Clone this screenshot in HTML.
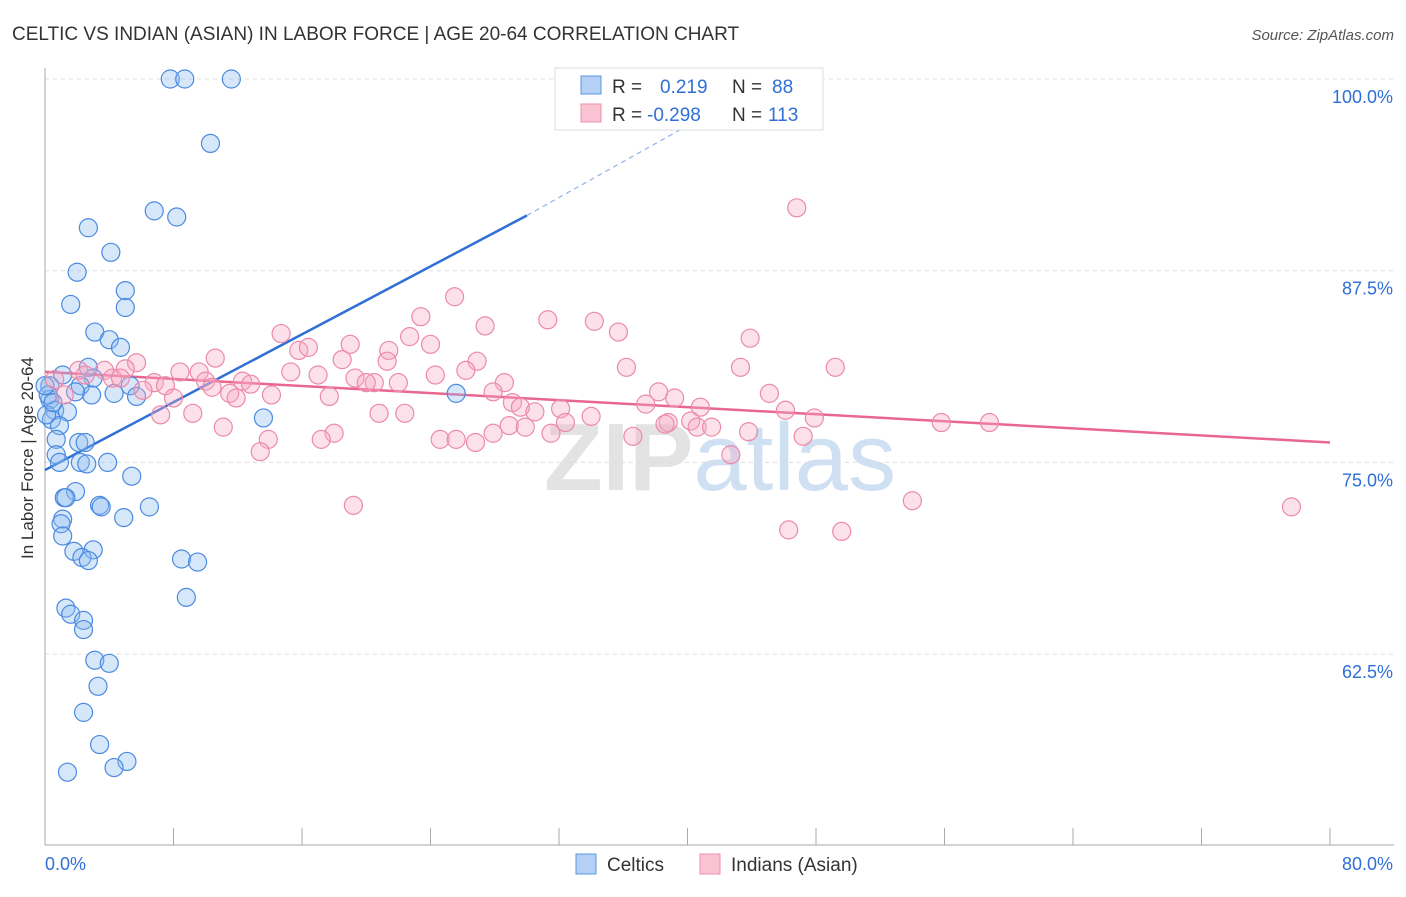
<!DOCTYPE html>
<html><head><meta charset="utf-8">
<style>
body{margin:0;background:#fff;font-family:"Liberation Sans",sans-serif;}
svg text{font-family:"Liberation Sans",sans-serif;}
</style></head>
<body>
<svg id="chart" width="1406" height="892" viewBox="0 0 1406 892" xmlns="http://www.w3.org/2000/svg">
<text x="12" y="40" font-size="19" fill="#333">CELTIC VS INDIAN (ASIAN) IN LABOR FORCE | AGE 20-64 CORRELATION CHART</text>
<text x="1394" y="40" font-size="15" fill="#555" text-anchor="end" font-style="italic">Source: ZipAtlas.com</text>
<text x="720" y="490" font-size="96" fill="#e3e3e3" text-anchor="middle" font-weight="bold">ZIP<tspan fill="#cfe0f3" font-weight="normal">atlas</tspan></text>
<g id="grid"></g>
<g id="axes"></g>
<g id="trend"></g>
<g id="points"></g>
<text transform="translate(33,458) rotate(-90)" font-size="17" fill="#333" text-anchor="middle">In Labor Force | Age 20-64</text>
<g>
<rect x="555" y="68" width="268" height="62" fill="#fff" stroke="#ddd"/>
<rect x="581" y="76" width="20" height="18" fill="#b5d0f5" stroke="#5b95e0"/>
<rect x="581" y="104" width="20" height="18" fill="#f9c3d3" stroke="#ee8fab"/>
<text x="612" y="93" font-size="19" fill="#333">R = </text><text x="660" y="93" font-size="19" fill="#2f6fd6">0.219</text>
<text x="732" y="93" font-size="19" fill="#333">N = </text><text x="772" y="93" font-size="19" fill="#2f6fd6">88</text>
<text x="612" y="121" font-size="19" fill="#333">R = </text><text x="647" y="121" font-size="19" fill="#2f6fd6">-0.298</text>
<text x="732" y="121" font-size="19" fill="#333">N = </text><text x="768" y="121" font-size="19" fill="#2f6fd6">113</text>
</g>
<g>
<rect x="576" y="854" width="20" height="20" fill="#b5d0f5" stroke="#5b95e0"/>
<text x="607" y="871" font-size="19" fill="#333">Celtics</text>
<rect x="700" y="854" width="20" height="20" fill="#f9c3d3" stroke="#ee8fab"/>
<text x="731" y="871" font-size="19" fill="#333">Indians (Asian)</text>
</g>
</svg>
<script>
const yTicks=[100,87.5,75,62.5];
const yTickLabels=["100.0%","87.5%","75.0%","62.5%"];
const xTickVals=[0,8,16,24,32,40,48,56,64,72,80];
const celticsX=[7.8,8.7,11.6,10.3,6.8,8.2,2.7,4.1,2.0,5.0,1.6,5.0,3.1,4.0,4.7,2.7,1.1,3.0,2.2,0.3,5.3,4.3,5.7,2.9,1.9,25.6,13.6,0.3,0.6,1.4,0.4,0.9,0.1,0.7,2.1,2.5,0.7,0.9,2.2,2.6,3.9,5.4,1.9,1.2,1.3,3.4,3.5,6.5,4.9,1.1,1.0,1.1,1.8,3.0,2.3,2.7,8.5,9.5,8.8,1.3,1.6,2.4,2.4,3.1,4.0,3.3,2.4,3.4,5.1,4.3,1.4,0.2,0.5,0.0];
const celticsY=[100,100,100,95.8,91.4,91.0,90.3,88.7,87.4,86.2,85.3,85.1,83.5,83.0,82.5,81.2,80.7,80.5,80.0,80.0,80.0,79.5,79.3,79.4,79.6,79.5,77.9,79.1,78.4,78.3,77.8,77.4,78.1,76.5,76.3,76.3,75.5,75.0,75.0,74.9,75.0,74.1,73.1,72.7,72.7,72.2,72.1,72.1,71.4,71.3,71.0,70.2,69.2,69.3,68.8,68.6,68.7,68.5,66.2,65.5,65.1,64.7,64.1,62.1,61.9,60.4,58.7,56.6,55.5,55.1,54.8,79.4,78.9,80.0];
const indiansX=[46.8,25.5,23.4,31.3,34.2,35.7,27.4,14.7,22.7,43.9,24.0,19.0,15.8,16.4,21.4,10.6,18.5,5.7,26.9,21.3,36.2,43.3,49.2,26.2,8.4,5.0,9.6,2.1,3.7,15.3,17.0,24.3,4.2,6.8,10.0,12.3,19.3,20.5,20.0,22.0,28.6,12.8,10.4,7.5,6.1,27.9,38.2,39.2,45.1,11.5,14.1,11.9,17.7,8.0,29.1,29.6,30.5,32.1,37.4,40.8,9.2,7.2,20.8,22.4,34.0,46.1,47.9,55.8,58.8,32.4,28.9,29.9,38.8,40.2,38.6,40.6,41.5,11.1,18.0,27.9,31.5,36.6,43.8,17.2,13.9,24.6,25.6,26.8,47.2,13.4,42.7,19.2,54.0,77.6,46.3,49.6,0.6,1.2,2.5,4.7];
const indiansY=[91.6,85.8,84.5,84.3,84.2,83.5,83.9,83.4,83.2,83.1,82.7,82.7,82.3,82.5,82.3,81.8,81.7,81.5,81.6,81.6,81.2,81.2,81.2,81.0,80.9,81.1,80.9,81.0,81.0,80.9,80.7,80.7,80.5,80.2,80.3,80.3,80.5,80.2,80.2,80.2,80.2,80.1,79.9,80.0,79.7,79.6,79.6,79.2,79.5,79.5,79.4,79.2,79.3,79.2,78.9,78.6,78.3,78.5,78.8,78.6,78.2,78.1,78.2,78.2,78.0,78.4,77.9,77.6,77.6,77.6,77.4,77.3,77.6,77.7,77.5,77.3,77.3,77.3,76.9,76.9,76.9,76.7,77.0,76.5,76.5,76.5,76.5,76.3,76.7,75.7,75.5,72.2,72.5,72.1,70.6,70.5,80.4,79.4,80.7,80.5];
const blueTrendX=[0,30,44];
const blueTrendY=[74.5,91.1,99.3];
const pinkTrendX=[0,80];
const pinkTrendY=[80.9,76.3];

const NS="http://www.w3.org/2000/svg";
const X0=45,X1=1330,YT=79;
function sx(v){return X0+(v/80)*(X1-X0);}
function sy(v){return YT+(100-v)/12.5*191.7;}
function mk(tag,attrs,parent){const e=document.createElementNS(NS,tag);for(const k in attrs)e.setAttribute(k,attrs[k]);parent.appendChild(e);return e;}
const grid=document.getElementById('grid'),axes=document.getElementById('axes'),trend=document.getElementById('trend'),pts=document.getElementById('points');
yTicks.forEach((t,i)=>{
 const l=mk('line',{x1:X0,x2:1394,y1:sy(t),y2:sy(t),stroke:'#ddd','stroke-dasharray':'4,4'},grid);
 
 
 const tx=mk('text',{x:1393,y:sy(t)+24,'font-size':18,fill:'#2f6fd6','text-anchor':'end'},grid);
 tx.textContent=yTickLabels[i];
 
 
});
const ya=mk('line',{x1:X0,x2:X0,y1:68,y2:845,stroke:'#aaa'},axes);


const xa=mk('line',{x1:X0,x2:1394,y1:845,y2:845,stroke:'#aaa'},axes);


xTickVals.forEach(v=>{
 const t=mk('line',{x1:sx(v),x2:sx(v),y1:828,y2:845,stroke:'#aaa'},axes);
 
 
});
const xl0=mk('text',{x:45,y:870,'font-size':18,fill:'#2f6fd6'},axes);xl0.textContent='0.0%';


const xl1=mk('text',{x:1393,y:870,'font-size':18,fill:'#2f6fd6','text-anchor':'end'},axes);xl1.textContent='80.0%';



celticsX.forEach((v,i)=>{
 const c=mk('circle',{cx:sx(v),cy:sy(celticsY[i]),r:9,fill:'rgba(140,185,240,0.35)',stroke:'#4a8ae0','stroke-width':1.2},pts);
 
 
});
indiansX.forEach((v,i)=>{
 const c=mk('circle',{cx:sx(v),cy:sy(indiansY[i]),r:9,fill:'rgba(245,170,195,0.35)',stroke:'#ec8aa8','stroke-width':1.2},pts);
 
 
});
const b1=mk('line',{x1:sx(blueTrendX[0]),y1:sy(blueTrendY[0]),x2:sx(blueTrendX[1]),y2:sy(blueTrendY[1]),stroke:'#2f6fd6','stroke-width':2.5},trend);


const b2=mk('line',{x1:sx(blueTrendX[1]),y1:sy(blueTrendY[1]),x2:sx(blueTrendX[2]),y2:sy(blueTrendY[2]),stroke:'#8fb3e8','stroke-width':1.2,'stroke-dasharray':'5,4'},trend);


const p1=mk('line',{x1:sx(pinkTrendX[0]),y1:sy(pinkTrendY[0]),x2:sx(pinkTrendX[1]),y2:sy(pinkTrendY[1]),stroke:'#e8668f','stroke-width':2.5},trend);


</script>
</body></html>
